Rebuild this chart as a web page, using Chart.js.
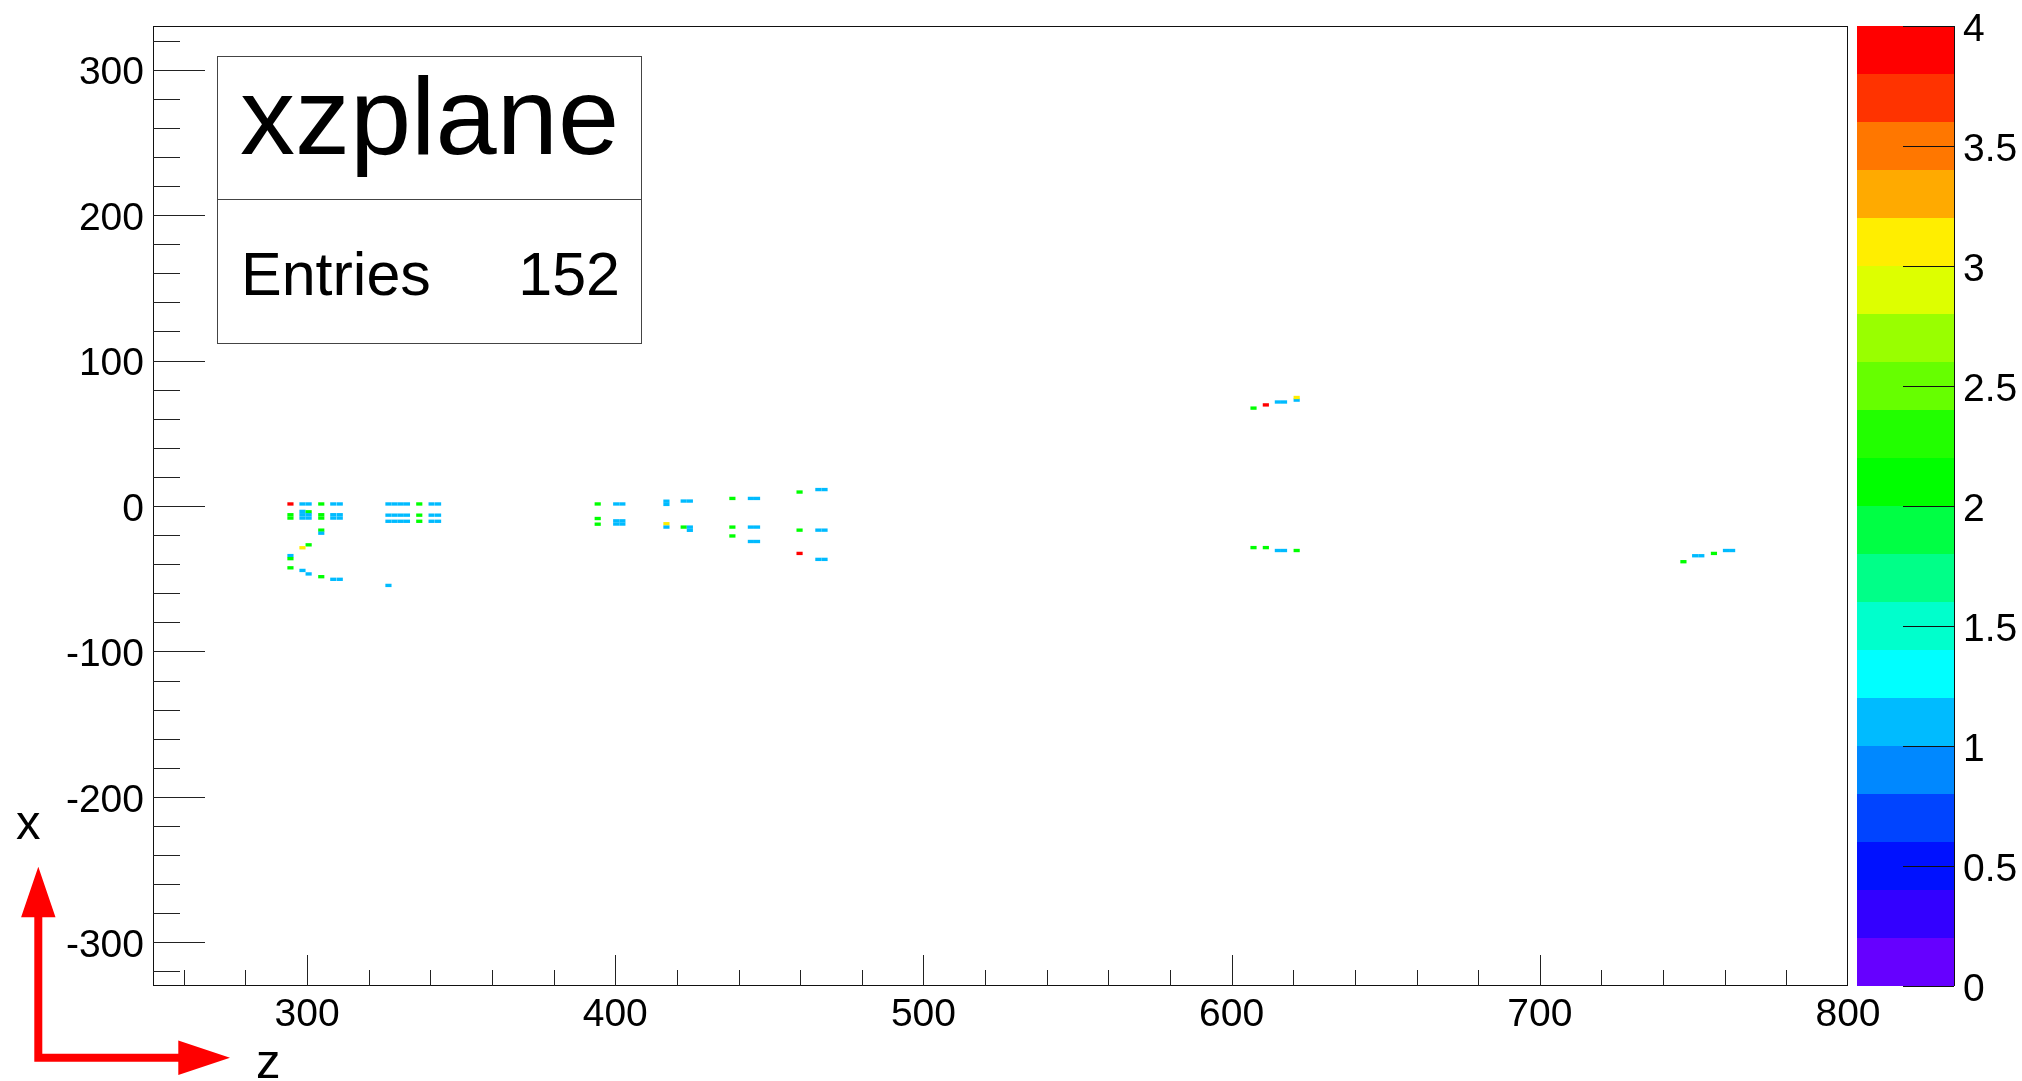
<!DOCTYPE html>
<html>
<head>
<meta charset="utf-8">
<title>xzplane</title>
<script src="https://cdn.jsdelivr.net/npm/chart.js@4.4.1/dist/chart.umd.min.js"></script>
<style>
  html, body { margin: 0; padding: 0; background: #fff; }
  canvas { display: block; }
</style>
</head>
<body>
<canvas id="xzChart" width="2022" height="1081"></canvas>
<script>
// histogram cells: z (horizontal), x (vertical) and bin content
const cellZ = [
  294.6, 298.5, 300.5, 304.6, 308.5, 310.6, 326.4, 328.4, 330.4, 332.4, 336.4, 340.4, 342.5,
  298.5, 300.5, 294.6, 294.6, 298.5, 298.5, 300.5, 300.5, 304.6, 304.6, 308.5, 308.5, 310.6, 310.6,
  326.4, 328.4, 330.4, 332.4, 336.4, 340.4, 342.5,
  326.4, 328.4, 330.4, 332.4, 336.4, 340.4, 342.5,
  304.6, 304.6, 300.5, 298.5, 294.6, 294.6, 294.6, 298.5, 300.5, 304.6, 308.5, 310.6, 326.4,
  394.3, 400.3, 402.3, 394.3, 394.3, 400.3, 402.3, 400.3, 402.3,
  416.6, 416.6, 422.2, 424.2, 416.6, 416.6, 422.2, 424.2, 424.2,
  438.0, 444.0, 446.0, 438.0, 444.0, 446.0, 438.0, 444.0, 446.0,
  459.8, 465.9, 467.9, 459.8, 465.9, 467.9, 459.8, 465.9, 467.9,
  607.1, 611.1, 615.0, 617.0, 621.1, 621.1, 607.1, 611.1, 615.0, 617.0, 621.1,
  746.6, 750.4, 752.4, 756.5, 760.4, 762.4
];
const cellX = [
  1.4, 1.4, 1.4, 1.4, 1.4, 1.4, 1.4, 1.4, 1.4, 1.4, 1.4, 1.4, 1.4,
  -3.7, -4.0, -6.0, -8.3, -6.0, -8.3, -6.0, -8.3, -6.0, -8.3, -6.0, -8.3, -6.0, -8.3,
  -6.3, -6.3, -6.3, -6.3, -6.3, -6.3, -6.3,
  -10.5, -10.5, -10.5, -10.5, -10.5, -10.5, -10.5,
  -16.6, -18.7, -26.7, -28.7, -34.1, -36.2, -42.5, -44.3, -46.7, -48.6, -50.4, -50.4, -54.6,
  1.4, 1.4, 1.4, -8.6, -12.5, -10.2, -10.2, -12.4, -12.4,
  3.3, 1.1, 3.4, 3.4, -12.2, -14.5, -14.5, -14.5, -16.7,
  5.2, 5.2, 5.2, -14.5, -14.5, -14.5, -20.6, -24.4, -24.4,
  9.6, 11.3, 11.3, -16.6, -16.6, -16.6, -32.6, -36.7, -36.7,
  67.3, 69.5, 71.5, 71.5, 72.8, 74.6, -28.6, -28.6, -30.6, -30.6, -30.6,
  -38.3, -34.2, -34.2, -32.6, -30.6, -30.6
];
const cellW = [
  4, 1, 1, 2, 1, 1, 1, 1, 1, 1, 2, 1, 1,
  1, 2, 2, 2, 1, 1, 1, 1, 2, 2, 1, 1, 1, 1,
  1, 1, 1, 1, 2, 1, 1,
  1, 1, 1, 1, 2, 1, 1,
  2, 1, 2, 3, 1, 2, 2, 1, 1, 2, 1, 1, 1,
  2, 1, 1, 2, 2, 1, 1, 1, 1,
  1, 1, 1, 1, 3, 1, 2, 1, 1,
  2, 1, 1, 2, 1, 1, 2, 1, 1,
  2, 1, 1, 2, 1, 1, 4, 1, 1,
  2, 4, 1, 1, 1, 3, 2, 2, 1, 1, 2,
  2, 1, 1, 2, 1, 1
];
const entries = 152;

const xTicks = [300, 400, 500, 600, 700, 800];
const yTicks = [-300, -200, -100, 0, 100, 200, 300];
const paletteTicks = [0, 0.5, 1, 1.5, 2, 2.5, 3, 3.5, 4];
// colour contours from 0 (bottom) to 4 (top)
const paletteColors = [
  '#6600ff', '#3300ff', '#0011ff', '#0044ff', '#0088ff',
  '#00bbff', '#00ffff', '#00ffcc', '#00ff88', '#00ff44',
  '#00ff00', '#22ff00', '#66ff00', '#99ff00', '#ddff00',
  '#ffee00', '#ffaa00', '#ff7700', '#ff3300', '#ff0000'
];

const binZ = 2.0;
const binX = 2.3;
const font = '"Liberation Sans", Arial, Helvetica, sans-serif';
Chart.defaults.font.family = font;
Chart.defaults.color = '#000';

const cells = cellZ.map((z, i) => ({ x: z, y: cellX[i], w: cellW[i] }));

function paletteColor(w) {
  const step = 4 / paletteColors.length;
  const i = Math.min(paletteColors.length - 1, Math.floor(w / step + 1e-9));
  return paletteColors[Math.max(0, i)];
}

function fixTicks(list) {
  return function(scale) {
    scale.ticks = list.map(v => ({ value: v }));
  };
}

// keep the plot frame where it is, labels may stick out
function fixSize(w, h) {
  return function(scale) {
    if (w) scale.width = w;
    if (h) scale.height = h;
    scale.paddingTop = 0;
    scale.paddingBottom = 0;
    scale.paddingLeft = 0;
    scale.paddingRight = 0;
  };
}

// ROOT style frame, inner ticks, palette, stats box and arrows
const rootDecor = {
  id: 'rootDecor',
  beforeDraw(chart) {
    const ctx = chart.ctx;
    ctx.save();
    ctx.fillStyle = '#fff';
    ctx.fillRect(0, 0, chart.width, chart.height);
    ctx.restore();
  },
  beforeDatasetsDraw(chart) {
    const { ctx, scales: { x, y } } = chart;
    ctx.save();
    chart.data.datasets[0].data.forEach(c => {
      const x0 = x.getPixelForValue(c.x - binZ / 2);
      const x1 = x.getPixelForValue(c.x + binZ / 2);
      const y0 = y.getPixelForValue(c.y + binX / 2);
      const y1 = y.getPixelForValue(c.y - binX / 2);
      ctx.fillStyle = paletteColor(c.w);
      ctx.fillRect(x0, y0, x1 - x0, y1 - y0);
    });
    ctx.restore();
  },
  afterDraw(chart) {
    const { ctx, chartArea: a, scales: { x, y, pal } } = chart;
    ctx.save();

    // frame
    ctx.strokeStyle = '#111';
    ctx.lineWidth = 1;
    ctx.strokeRect(Math.round(a.left) + 0.5, Math.round(a.top) + 0.5,
      Math.round(a.right - a.left) - 1, Math.round(a.bottom - a.top) - 1);

    // ticks
    ctx.beginPath();
    for (let v = -320; v <= 320; v += 20) {
      const py = Math.round(y.getPixelForValue(v)) + 0.5;
      const len = v % 100 === 0 ? 52 : 27;
      ctx.moveTo(a.left, py);
      ctx.lineTo(a.left + len, py);
    }
    for (let v = 260; v < 800; v += 20) {
      const px = Math.round(x.getPixelForValue(v)) + 0.5;
      const len = v % 100 === 0 ? 31 : 16;
      ctx.moveTo(px, a.bottom);
      ctx.lineTo(px, a.bottom - len);
    }
    ctx.strokeStyle = '#222';
    ctx.stroke();

    // palette
    const pl = pal.left + 9, pr = pal.left + 106;
    paletteColors.forEach((col, i) => {
      const step = 4 / paletteColors.length;
      const t = pal.getPixelForValue((i + 1) * step);
      const b = pal.getPixelForValue(i * step);
      ctx.fillStyle = col;
      ctx.fillRect(pl, Math.round(t), pr - pl, Math.round(b) - Math.round(t));
    });
    ctx.beginPath();
    ctx.moveTo(pr + 0.5, a.top);
    ctx.lineTo(pr + 0.5, a.bottom);
    paletteTicks.forEach(v => {
      const py = Math.round(pal.getPixelForValue(v)) + 0.5;
      ctx.moveTo(pr, py);
      ctx.lineTo(pr - 51, py);
    });
    ctx.strokeStyle = '#111';
    ctx.stroke();

    // stats box
    const bx0 = 217.5, bx1 = 641.5, by0 = 56.5, bmid = 199.5, by1 = 343.5;
    ctx.fillStyle = '#fff';
    ctx.fillRect(bx0, by0, bx1 - bx0, by1 - by0);
    ctx.strokeStyle = '#444';
    ctx.strokeRect(bx0, by0, bx1 - bx0, by1 - by0);
    ctx.beginPath();
    ctx.moveTo(bx0, bmid);
    ctx.lineTo(bx1, bmid);
    ctx.stroke();
    ctx.fillStyle = '#000';
    ctx.textBaseline = 'alphabetic';
    ctx.font = '110px ' + font;
    ctx.textAlign = 'center';
    ctx.fillText('xzplane', (bx0 + bx1) / 2, 154);
    ctx.font = '61px ' + font;
    ctx.textAlign = 'left';
    ctx.fillText('Entries', 241, 295);
    ctx.textAlign = 'right';
    ctx.fillText(String(entries), 620, 295);

    // axis arrows
    ctx.fillStyle = '#ff0000';
    ctx.strokeStyle = '#ff0000';
    ctx.lineWidth = 8;
    ctx.beginPath();
    ctx.moveTo(38.3, 1061.8);
    ctx.lineTo(38.3, 912);
    ctx.moveTo(34.3, 1057.8);
    ctx.lineTo(183, 1057.8);
    ctx.stroke();
    ctx.beginPath();
    ctx.moveTo(38.3, 866.7);
    ctx.lineTo(55.5, 917.3);
    ctx.lineTo(21.1, 917.3);
    ctx.closePath();
    ctx.moveTo(230, 1057.8);
    ctx.lineTo(178.3, 1075);
    ctx.lineTo(178.3, 1040.6);
    ctx.closePath();
    ctx.fill();

    ctx.fillStyle = '#000';
    ctx.font = '49px ' + font;
    ctx.textAlign = 'left';
    ctx.fillText('x', 16, 839);
    ctx.fillText('z', 256, 1078);
    ctx.restore();
  }
};

const tickFont = { size: 39, family: font };
const plainLabel = v => String(v);

new Chart(document.getElementById('xzChart'), {
  type: 'scatter',
  data: {
    datasets: [{
      label: 'xzplane',
      data: cells,
      pointRadius: 0,
      pointHoverRadius: 0
    }]
  },
  options: {
    responsive: false,
    animation: false,
    devicePixelRatio: 1,
    events: [],
    layout: { padding: { top: 26, left: 0, right: 0, bottom: 0 } },
    plugins: {
      legend: { display: false },
      tooltip: { enabled: false }
    },
    scales: {
      x: {
        type: 'linear',
        position: 'bottom',
        min: 250,
        max: 800,
        grid: { display: false, drawTicks: false },
        border: { display: false },
        ticks: { font: tickFont, color: '#000', padding: 6, maxRotation: 0, callback: plainLabel },
        afterBuildTicks: fixTicks(xTicks),
        afterFit: fixSize(0, 95)
      },
      y: {
        type: 'linear',
        position: 'left',
        min: -330,
        max: 330,
        grid: { display: false, drawTicks: false },
        border: { display: false },
        ticks: { font: tickFont, color: '#000', padding: 9, labelOffset: 4, callback: plainLabel },
        afterBuildTicks: fixTicks(yTicks),
        afterFit: fixSize(153, 0)
      },
      pal: {
        type: 'linear',
        axis: 'y',
        position: 'right',
        min: 0,
        max: 4,
        grid: { display: false, drawTicks: false },
        border: { display: false },
        ticks: { font: tickFont, color: '#000', padding: 115, labelOffset: 4, callback: plainLabel },
        afterBuildTicks: fixTicks(paletteTicks),
        afterFit: fixSize(174, 0)
      }
    }
  },
  plugins: [rootDecor]
});
</script>
</body>
</html>
